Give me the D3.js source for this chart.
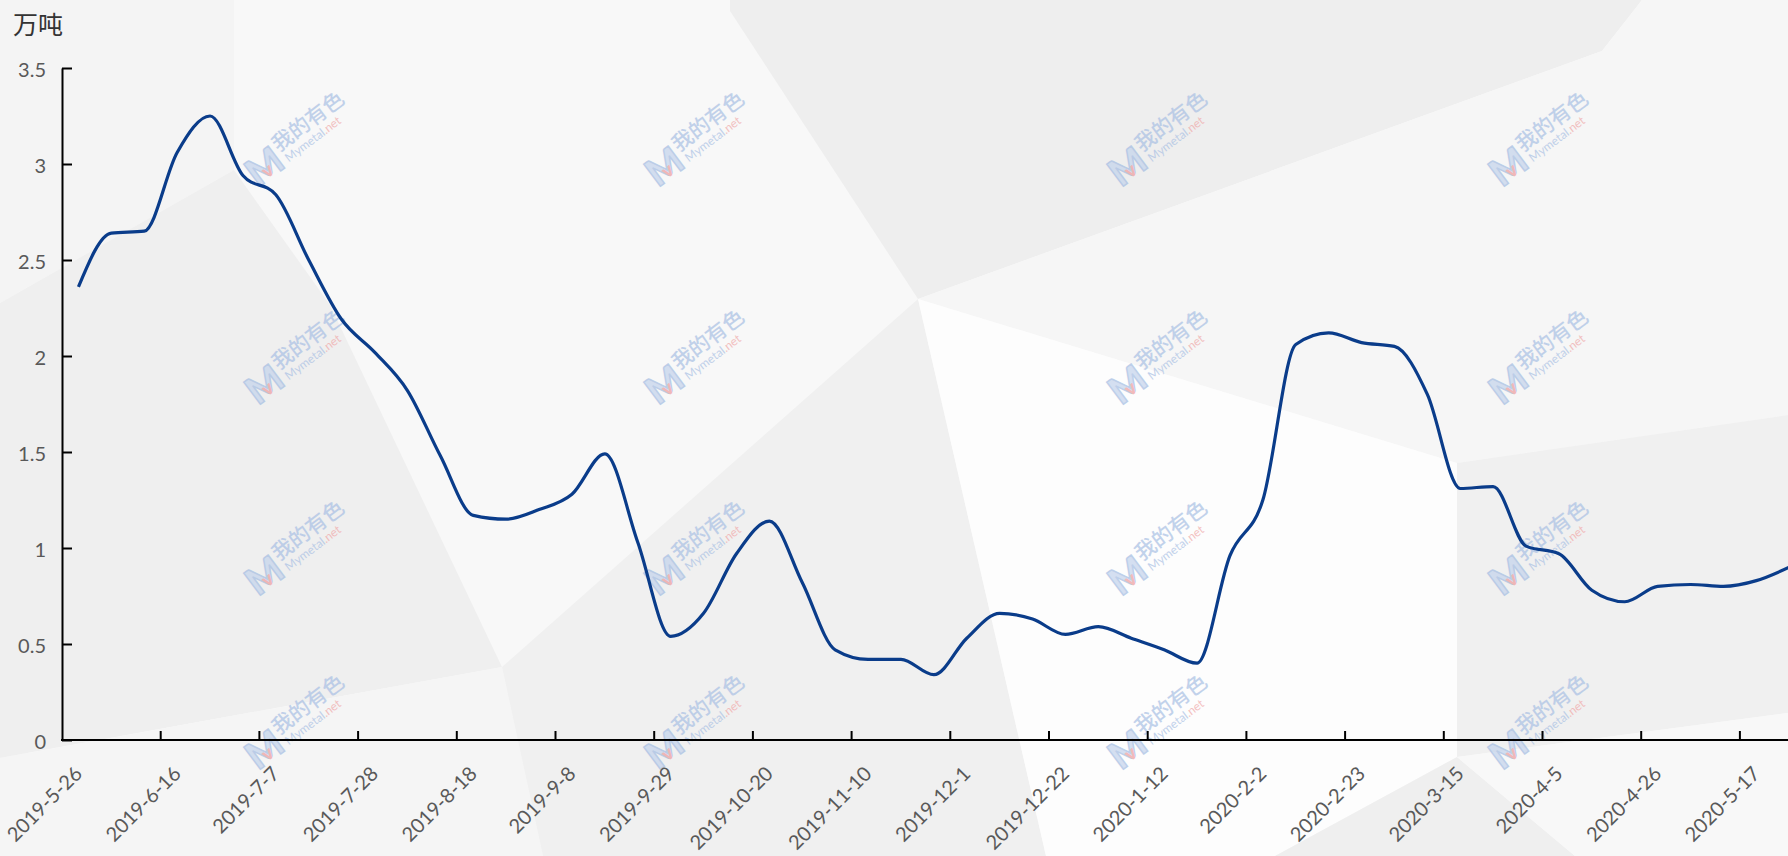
<!DOCTYPE html>
<html>
<head>
<meta charset="utf-8">
<script src="https://cdn.jsdelivr.net/npm/d3@7"></script>
<style>
    body { margin: 0; background: #fafafa; overflow: hidden; }
    svg { display: block; }
    .label { font-family: Lato, 'Noto Sans', sans-serif; font-size: 20px; fill: #595959; }
    .unit { font-family: 'Noto Sans CJK SC', sans-serif; font-size: 25px; fill: #333; }
    .wm { font-family: 'Noto Sans CJK SC', sans-serif; }
</style>
</head>
<body>
<svg id="chart"></svg>
<script>
// weekly inventory, 万吨
var weeks = [
    '2019-5-26', '2019-6-2', '2019-6-9', '2019-6-16', '2019-6-23', '2019-6-30',
    '2019-7-7', '2019-7-14', '2019-7-21', '2019-7-28', '2019-8-4', '2019-8-11',
    '2019-8-18', '2019-8-25', '2019-9-1', '2019-9-8', '2019-9-15', '2019-9-22',
    '2019-9-29', '2019-10-6', '2019-10-13', '2019-10-20', '2019-10-27', '2019-11-3',
    '2019-11-10', '2019-11-17', '2019-11-24', '2019-12-1', '2019-12-8', '2019-12-15',
    '2019-12-22', '2019-12-29', '2020-1-5', '2020-1-12', '2020-1-19', '2020-1-26',
    '2020-2-2', '2020-2-9', '2020-2-16', '2020-2-23', '2020-3-1', '2020-3-8',
    '2020-3-15', '2020-3-22', '2020-3-29', '2020-4-5', '2020-4-12', '2020-4-19',
    '2020-4-26', '2020-5-3', '2020-5-10', '2020-5-17', '2020-5-24'
];
var stock = [
    2.36, 2.64, 2.65, 3.06, 3.25, 2.94,
    2.84, 2.50, 2.19, 2.02, 1.82, 1.48,
    1.17, 1.15, 1.20, 1.28, 1.49, 1.03,
    0.54, 0.66, 0.97, 1.14, 0.82, 0.47,
    0.42, 0.42, 0.34, 0.53, 0.66, 0.63,
    0.55, 0.59, 0.53, 0.47, 0.40, 0.96,
    1.25, 2.06, 2.12, 2.07, 2.05, 1.80,
    1.31, 1.32, 1.01, 0.97, 0.78, 0.72,
    0.80, 0.81, 0.80, 0.83, 0.90
];
var yTicks = [0, 0.5, 1, 1.5, 2, 2.5, 3, 3.5];
var unitLabel = '万吨';
var labelEvery = 3;

(function(d3) {
    'use strict';

    var width = 1788,
        height = 856,
        step = 32.9;

    var margin = { top: 68, left: 62, bottom: 116 };

    // low poly background panels
    var panels = [
        { fill: '#f9f9f9', pts: [[0, 0], [1788, 0], [1788, 856], [0, 856]] },
        { fill: '#f4f4f4', pts: [[0, 0], [234, 0], [234, 170], [0, 303]] },
        { fill: '#f8f8f8', pts: [[234, 0], [730, 0], [730, 11], [918, 299], [502, 667], [330, 305], [234, 170]] },
        { fill: '#efefef', pts: [[0, 303], [234, 170], [330, 305], [502, 667], [0, 758]] },
        { fill: '#f5f5f5', pts: [[0, 758], [502, 667], [543, 856], [0, 856]] },
        { fill: '#eeeeee', pts: [[730, 11], [730, 0], [1642, 0], [1602, 51], [918, 299]] },
        { fill: '#f6f6f6', pts: [[1642, 0], [1788, 0], [1788, 415], [1457, 463], [918, 299], [1602, 51]] },
        { fill: '#f0f0f0', pts: [[502, 667], [918, 299], [1046, 856], [543, 856]] },
        { fill: '#fdfdfd', pts: [[918, 299], [1457, 463], [1457, 757], [1275, 856], [1046, 856]] },
        { fill: '#f0f0f0', pts: [[1457, 463], [1788, 415], [1788, 713], [1457, 757]] },
        { fill: '#efefef', pts: [[1457, 757], [1275, 856], [1575, 856]] },
        { fill: '#f8f8f8', pts: [[1457, 757], [1788, 713], [1788, 856], [1575, 856]] }
    ];

    var wmRows = [140, 358, 549, 723],
        wmCols = [297, 697, 1160, 1541];

    var x = d3.scaleBand()
        .domain(weeks)
        .range([margin.left, margin.left + weeks.length * step])
        .padding(0);

    var y = d3.scaleLinear()
        .domain([0, 3.5])
        .range([height - margin.bottom, margin.top]);

    var svg = d3.select('#chart')
        .attr('width', width)
        .attr('height', height);

    svg.append('g')
        .selectAll('polygon')
        .data(panels)
        .enter()
        .append('polygon')
        .attr('points', function (d) { return d.pts.map(function (p) { return p.join(','); }).join(' '); })
        .attr('fill', function (d) { return d.fill; });

    // watermarks
    var marks = [];
    wmRows.forEach(function (r) {
        wmCols.forEach(function (c) { marks.push([c, r]); });
    });

    var wm = svg.append('g')
        .selectAll('g')
        .data(marks)
        .enter()
        .append('g')
        .attr('class', 'wm')
        .attr('opacity', 0.7)
        .attr('transform', function (d) { return 'translate(' + d[0] + ',' + d[1] + ') rotate(-37)'; });

    wm.append('text')
        .attr('x', -60)
        .attr('y', 15)
        .style('font-family', 'Lato, sans-serif')
        .style('font-weight', 900)
        .style('font-size', '38px')
        .attr('fill', '#c3d3ec')
        .attr('stroke', '#a3bce2')
        .attr('stroke-width', 1.5)
        .text('M');
    wm.append('text')
        .attr('x', -47)
        .attr('y', 13)
        .style('font-family', 'Lato, sans-serif')
        .style('font-weight', 900)
        .style('font-size', '19px')
        .attr('fill', '#ee9e9e')
        .text('v');
    wm.append('text')
        .attr('x', -22)
        .attr('y', -1)
        .style('font-size', '21px')
        .style('font-weight', 500)
        .attr('fill', '#a9c0e4')
        .text('我的有色');
    var wmSub = wm.append('text')
        .attr('x', -20)
        .attr('y', 13)
        .style('font-family', 'Lato, sans-serif')
        .style('font-size', '12px');
    wmSub.append('tspan').attr('fill', '#a9c0e4').text('Mymetal');
    wmSub.append('tspan').attr('fill', '#f0a8a8').text('.net');

    // unit
    svg.append('text')
        .attr('class', 'unit')
        .attr('x', 13)
        .attr('y', 34)
        .text(unitLabel);

    // y axis
    var yAxis = svg.append('g')
        .attr('transform', 'translate(' + margin.left + ',0)')
        .call(d3.axisLeft(y)
            .tickValues(yTicks)
            .tickFormat(function (d) { return String(d); })
            .tickSizeInner(-10)
            .tickSizeOuter(0)
            .tickPadding(16));

    yAxis.select('.domain').attr('stroke', '#000').attr('stroke-width', 2);
    yAxis.selectAll('.tick line').attr('stroke', '#000').attr('stroke-width', 2);
    yAxis.selectAll('.tick text')
        .attr('class', 'label')
        .attr('dy', '0.4em');
    yAxis.attr('font-family', null).attr('font-size', null);

    // x axis
    var xAxis = svg.append('g');

    xAxis.append('line')
        .attr('x1', margin.left - 1)
        .attr('x2', width)
        .attr('y1', y(0))
        .attr('y2', y(0))
        .attr('stroke', '#000')
        .attr('stroke-width', 2);

    var labelled = weeks.filter(function (d, i) { return i % labelEvery === 0; });

    xAxis.selectAll('.xtick')
        .data(labelled.slice(1))
        .enter()
        .append('line')
        .attr('class', 'xtick')
        .attr('x1', function (d) { return x(d); })
        .attr('x2', function (d) { return x(d); })
        .attr('y1', y(0))
        .attr('y2', y(0) - 9)
        .attr('stroke', '#000')
        .attr('stroke-width', 2);

    xAxis.selectAll('.label')
        .data(labelled)
        .enter()
        .append('text')
        .attr('class', 'label')
        .attr('text-anchor', 'end')
        .attr('dy', '0.35em')
        .attr('transform', function (d) {
            return 'translate(' + (x(d) + x.bandwidth() / 2) + ',' + (y(0) + 30) + ') rotate(-45)';
        })
        .text(function (d) { return d; });

    // series
    var line = d3.line()
        .x(function (d, i) { return x(weeks[i]) + x.bandwidth() / 2; })
        .y(function (d) { return y(d); })
        .curve(d3.curveMonotoneX);

    svg.append('path')
        .datum(stock)
        .attr('d', line)
        .attr('fill', 'none')
        .attr('stroke', '#0a3c8a')
        .attr('stroke-width', 3.2)
        .attr('stroke-linejoin', 'round');
})(window.d3);
</script>
</body>
</html>
